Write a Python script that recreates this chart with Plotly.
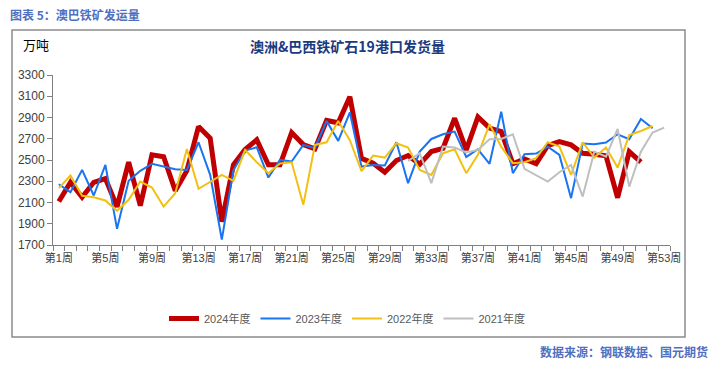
import plotly.graph_objects as go

weeks = list(range(1, 54))
week_labels = [f"第{w}周" for w in weeks]
tick_weeks = list(range(1, 54, 4))
tick_labels = [f"第{w}周" for w in tick_weeks]
y_ticks = [1700, 1900, 2100, 2300, 2500, 2700, 2900, 3100, 3300]

y2024 = [2110, 2290, 2150, 2290, 2325, 2060, 2480, 2070, 2548, 2530, 2210, 2400, 2815,
         2705, 1920, 2455, 2600, 2690, 2455, 2455, 2758, 2645, 2605, 2872, 2850, 3095,
         2515, 2470, 2385, 2495, 2542, 2460, 2580, 2610, 2893, 2595, 2905, 2800, 2768,
         2465, 2510, 2465, 2636, 2673, 2642, 2564, 2554, 2539, 2145, 2579, 2480, None, None]
y2023 = [2272, 2197, 2407, 2166, 2454, 1852, 2304, 2398, 2464, 2439, 2414, 2407, 2667,
         2360, 1750, 2405, 2589, 2620, 2335, 2501, 2486, 2642, 2611, 2867, 2680, 2949,
         2438, 2454, 2448, 2667, 2282, 2579, 2698, 2742, 2767, 2529, 2601, 2464, 2955,
         2376, 2554, 2561, 2626, 2548, 2141, 2655, 2648, 2664, 2742, 2695, 2886, 2799, None]
y2022 = [2235, 2354, 2163, 2150, 2119, 2022, 2125, 2297, 2241, 2062, 2188, 2604, 2229,
         2297, 2360, 2303, 2595, 2479, 2376, 2467, 2479, 2078, 2642, 2667, 2867, 2686,
         2395, 2542, 2523, 2658, 2617, 2407, 2360, 2564, 2601, 2376, 2548, 2836, 2626,
         2470, 2479, 2517, 2667, 2626, 2360, 2667, 2523, 2617, 2429, 2736, 2773, 2820, None]
y2021 = [None, None, None, None, None, None, None, None, None, None, None, None, None,
         None, None, None, None, None, None, None, None, None, None, None, None, None,
         None, None, None, None, 2492, 2564, 2282, 2626, 2617, 2570, 2595, 2695, 2698,
         2742, 2416, 2355, 2297, 2385, 2454, 2156, 2579, 2532, 2792, 2250, 2579, 2758, 2805]

series = [
    ("2024年度", y2024, "#c00000", 5),
    ("2023年度", y2023, "#1874f0", 2),
    ("2022年度", y2022, "#f2c012", 2),
    ("2021年度", y2021, "#bfbfbf", 2),
]

W, H = 721, 366
L, R, T, B = 53, 670, 75, 245

def px(x):
    return (x - L) / (R - L)

def py(y):
    return (B - y) / (B - T)

fig = go.Figure()
for name, ys, color, width in series:
    fig.add_trace(go.Scatter(
        x=weeks, y=ys, name=name, mode="lines",
        line=dict(color=color, width=width),
        connectgaps=False, hoverinfo="x+y",
    ))

base_font = "Liberation Sans, Arial, Noto Sans CJK SC, sans-serif"

fig.update_layout(
    width=W, height=H,
    margin=dict(l=L, r=W - R, t=T, b=H - B),
    paper_bgcolor="white", plot_bgcolor="white",
    showlegend=True,
    legend=dict(orientation="h", x=px(347), xanchor="center", y=py(304), yanchor="top",
                font=dict(family=base_font, size=11, color="#595959"),
                itemwidth=30, tracegroupgap=0, bgcolor="rgba(0,0,0,0)"),
    xaxis=dict(
        range=[0.5, 53.5], tickmode="array", tickvals=tick_weeks, ticktext=tick_labels,
        ticks="", showgrid=False, zeroline=False, showline=True, linecolor="#808080",
        linewidth=1, tickfont=dict(family=base_font, size=11, color="#404040"),
        ticklabelstandoff=3,
        minor=dict(tickmode="linear", tick0=0.5, dtick=1, ticks="outside", ticklen=5,
                   tickcolor="#808080", showgrid=False),
    ),
    yaxis=dict(
        range=[1700, 3300], tickmode="array", tickvals=y_ticks,
        ticks="outside", ticklen=5, tickcolor="#808080", showgrid=False, zeroline=False,
        showline=True, linecolor="#808080", linewidth=1,
        tickfont=dict(family=base_font, size=12, color="#404040"),
    ),
    font=dict(family=base_font),
)

# outer frame
fig.add_shape(type="rect", xref="paper", yref="paper",
              x0=px(12), x1=px(685), y0=py(337), y1=py(30),
              line=dict(color="#8c8c8c", width=1.5), fillcolor="rgba(0,0,0,0)", layer="below")

fig.add_annotation(text="<b>图表 5：澳巴铁矿发运量</b>", xref="paper", yref="paper",
                   x=px(8), y=py(15), xanchor="left", yanchor="middle", showarrow=False,
                   font=dict(family="Noto Sans CJK SC", size=12, color="#4f6fc0"))
fig.add_annotation(text="万吨", xref="paper", yref="paper",
                   x=px(21), y=py(45), xanchor="left", yanchor="middle", showarrow=False,
                   font=dict(family="Noto Sans CJK SC", size=13, color="#000000"))
fig.add_annotation(text="<b>澳洲&巴西铁矿石19港口发货量</b>", xref="paper", yref="paper",
                   x=px(347), y=py(46), xanchor="center", yanchor="middle", showarrow=False,
                   font=dict(family="Noto Sans CJK SC", size=14, color="#1b3a80"))
fig.add_annotation(text="<b>数据来源：钢联数据、国元期货</b>", xref="paper", yref="paper",
                   x=px(710), y=py(351), xanchor="right", yanchor="middle", showarrow=False,
                   font=dict(family="Noto Sans CJK SC", size=12, color="#4f6fc0"))

fig.write_html("out.html", config={"displayModeBar": False},
               post_script="document.body.style.margin='0';document.body.style.overflow='hidden';")
